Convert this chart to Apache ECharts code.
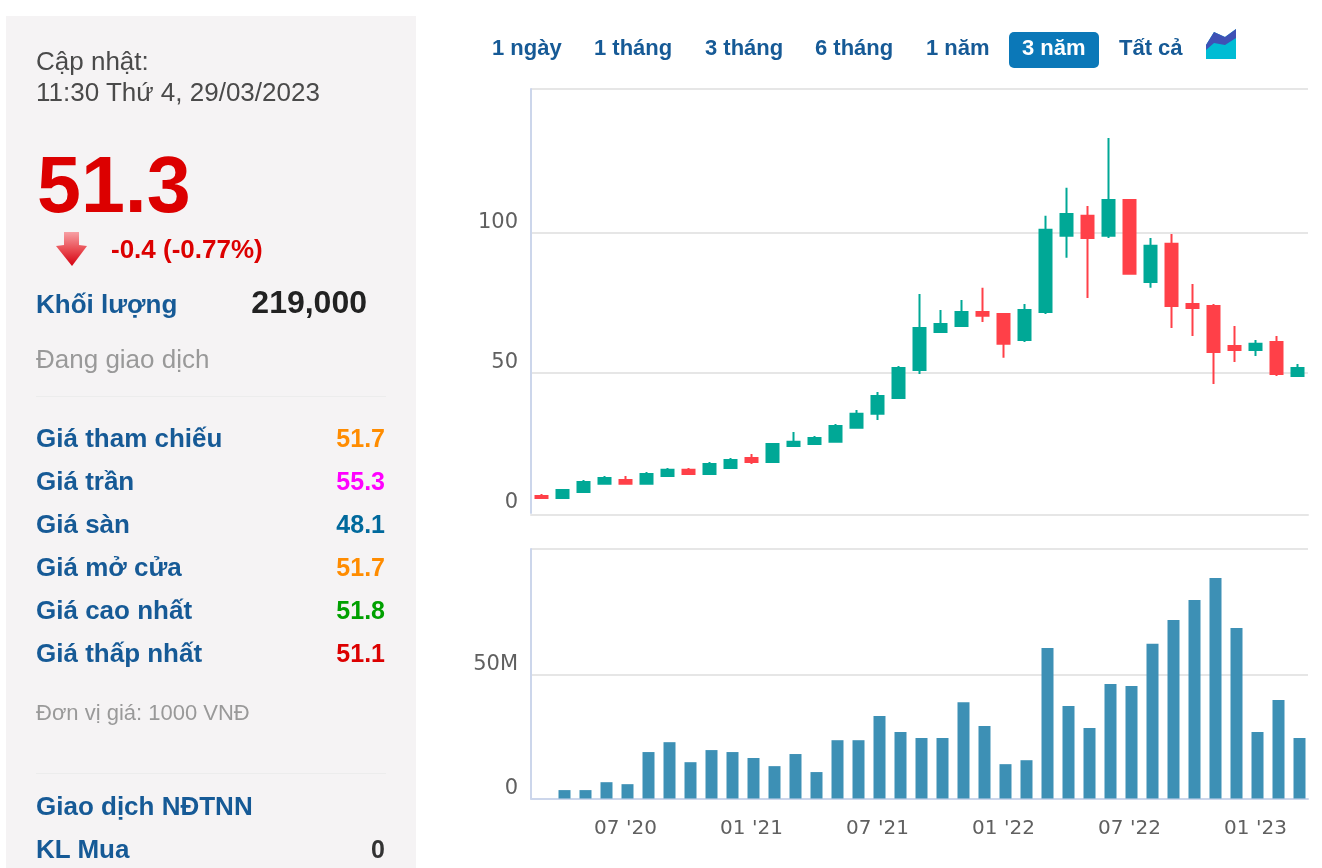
<!DOCTYPE html>
<html lang="vi">
<head>
    <meta charset="utf-8">
    <title>Biểu đồ giá</title>
    <script src="https://cdn.jsdelivr.net/npm/echarts@6/dist/echarts.min.js"></script>
    <style>
        body { margin: 0; background: #fff; font-family: "Liberation Sans", Arial, sans-serif; }
        #panel { position: absolute; left: 6px; top: 16px; width: 410px; height: 852px; background: #f5f3f4; }
        #main { position: absolute; left: 0; top: 0; width: 1322px; height: 868px; }
        .t { position: absolute; white-space: nowrap; line-height: 1; transform: translateY(-50%); }
        .rule { position: absolute; left: 36px; width: 350px; height: 1px; background: #ececec; }
        #active { position: absolute; left: 1009px; top: 32px; width: 90px; height: 36px; background: #0b78b8; border-radius: 5px; }
    </style>
</head>
<body>
<div id="panel"></div>
<div class="rule" style="top:396px"></div>
<div class="rule" style="top:773px"></div>
<div id="active"></div>
<div id="main"></div>
<div id="texts"></div>
<!--mũi tên giảm-->
<svg style="position:absolute;left:54px;top:230px" width="36" height="38">
    <defs>
        <linearGradient id="arrow" x1="0" y1="0" x2="0" y2="1">
            <stop offset="0" stop-color="#f7a0a4"/>
            <stop offset="0.55" stop-color="#e8474e"/>
            <stop offset="1" stop-color="#d40010"/>
        </linearGradient>
    </defs>
    <polygon points="10,2 25,2 25,15 33,16 18,36 2,16 10,15" fill="url(#arrow)"/>
</svg>
<!--icon đổi kiểu biểu đồ-->
<svg style="position:absolute;left:1206px;top:29px" width="30" height="30">
    <polygon points="0,16 8,3 19,8 30,0 30,30 0,30" fill="#00bcd4"/>
    <polygon points="0,16 8,3 19,8 30,0 30,9 19,16 8,14 0,21" fill="#3f51b5"/>
</svg>

<script type="text/javascript">
    var months = ["03 '20", "04 '20", "05 '20", "06 '20", "07 '20", "08 '20", "09 '20", "10 '20", "11 '20", "12 '20",
        "01 '21", "02 '21", "03 '21", "04 '21", "05 '21", "06 '21", "07 '21", "08 '21", "09 '21", "10 '21", "11 '21", "12 '21",
        "01 '22", "02 '22", "03 '22", "04 '22", "05 '22", "06 '22", "07 '22", "08 '22", "09 '22", "10 '22", "11 '22", "12 '22",
        "01 '23", "02 '23", "03 '23"];
    var opens = [6.1, 5.4, 7.5, 10.4, 11.8, 10.4, 13.2, 15.4, 13.9, 16.1, 19.6, 18.2, 23.9, 24.6, 25.4, 30.4, 35.4, 41.1,
        51.1, 64.6, 66.8, 71.8, 71.1, 61.8, 71.8, 99, 106.1, 99, 111.8, 82.5, 96.1, 74.6, 73.9, 59.6, 58.2, 61.1, 48.9];
    var closes = [5.4, 8.2, 11.1, 12.5, 10.4, 13.9, 15.4, 13.9, 17.5, 18.9, 18.2, 24.6, 25.4, 26.8, 31.1, 35.4, 41.8, 51.8,
        66.1, 67.5, 71.8, 70.4, 60.4, 72.5, 101.1, 106.8, 98.2, 111.8, 85.4, 95.4, 73.9, 73.2, 57.5, 58.2, 60.4, 49.6, 51.8];
    var lows = [5.4, 5.4, 7.5, 10.4, 10.4, 10.4, 13.2, 13.9, 13.9, 16.1, 17.5, 18.2, 23.9, 24.6, 25.4, 30.4, 33.2, 41.1,
        49.6, 64.6, 66.8, 68.2, 55.4, 61.1, 71.1, 91.1, 76.8, 98.2, 85.4, 80.4, 66.1, 63.2, 46.1, 53.9, 56.1, 48.9, 48.9];
    var highs = [6.8, 8.2, 11.8, 13.2, 13.2, 14.6, 16.1, 16.1, 18.2, 19.6, 21.1, 24.6, 28.9, 27.5, 31.8, 36.8, 43.2, 52.5,
        78.2, 72.5, 76.1, 80.4, 71.1, 74.6, 106.1, 116.1, 109.6, 133.9, 111.8, 98.2, 99.6, 81.8, 74.6, 66.8, 61.8, 63.2, 53.2];
    // khối lượng theo triệu, tháng đầu không có cột
    var volumes = [null, 3.4, 3.4, 6.6, 5.8, 18.8, 22.8, 14.7, 19.6, 18.8, 16.4, 13.1, 18, 10.7, 23.6, 23.6, 33.4, 26.9, 24.5,
        24.5, 39, 29.3, 13.9, 15.5, 60.9, 37.4, 28.5, 46.4, 45.5, 62.6, 72.3, 80.4, 89.3, 69, 26.9, 39.9, 24.5];

    var priceTicks = [0, 50, 100];
    var volumeTicks = [0, 50];

    var updateLines = ['Cập nhật:', '11:30 Thứ 4, 29/03/2023'];
    var priceNames = ['Giá tham chiếu', 'Giá trần', 'Giá sàn', 'Giá mở cửa', 'Giá cao nhất', 'Giá thấp nhất'];
    var priceValues = ['51.7', '55.3', '48.1', '51.7', '51.8', '51.1'];
    var priceColors = ['#ff8c00', '#ff00ff', '#00699c', '#ff8c00', '#00a000', '#dc0000'];
    var tabs = ['1 ngày', '1 tháng', '3 tháng', '6 tháng', '1 năm', '3 năm', 'Tất cả'];
    var tabLeft = [492, 594, 705, 815, 926, 1022, 1119];

    var BLUE = '#165a96';

    function put(text, x, y, size, color, bold, right) {
        var el = document.createElement('div');
        el.className = 't';
        el.textContent = text;
        el.style.top = y + 'px';
        el.style.fontSize = size + 'px';
        el.style.color = color;
        el.style.fontWeight = bold ? 'bold' : 'normal';
        if (right) {
            el.style.right = (1322 - x) + 'px';
        } else {
            el.style.left = x + 'px';
        }
        document.getElementById('texts').appendChild(el);
    }

    put(updateLines[0], 36, 61, 26, '#4a4a4a');
    put(updateLines[1], 36, 92, 26, '#4a4a4a');
    put('51.3', 37, 184, 79, '#dc0000', true);
    put('-0.4 (-0.77%)', 111, 249, 26, '#dc0000', true);
    put('Khối lượng', 36, 304, 26, BLUE, true);
    put('219,000', 367, 302, 32, '#222', true, true);
    put('Đang giao dịch', 36, 359, 26, '#999');
    priceNames.forEach(function (name, i) {
        put(name, 36, 438 + i * 43, 26, BLUE, true);
        put(priceValues[i], 385, 438 + i * 43, 25, priceColors[i], true, true);
    });
    put('Đơn vị giá: 1000 VNĐ', 36, 713, 22, '#999');
    put('Giao dịch NĐTNN', 36, 806, 26, BLUE, true);
    put('KL Mua', 36, 849, 26, BLUE, true);
    put('0', 385, 849, 25, '#333', true, true);
    tabs.forEach(function (tab, i) {
        put(tab, tabLeft[i], 48, 22, tab === '3 năm' ? '#fff' : BLUE, true);
    });

    var AXIS = '#ccd6eb';
    var GRID = '#e6e6e6';
    var X_LABEL = { fontFamily: 'DejaVu Sans', fontSize: 20, color: '#606060' };
    var Y_LABEL = { fontFamily: 'DejaVu Sans', fontSize: 21, color: '#606060' };

    // nhãn mốc 6 tháng một lần, bắt đầu từ 07 '20
    function isMark(i) {
        return (i - 4) % 6 === 0 && i >= 4;
    }

    var myChart = echarts.init(document.getElementById('main'));
    myChart.setOption({
        animation: false,
        grid: [
            {left: 531, width: 777, top: 89, height: 424},
            {left: 531, width: 777, top: 549, height: 249.5},
            // cột khối lượng lệch nhẹ so với trục
            {left: 533, width: 777, top: 549, height: 249.5}
        ],
        xAxis: [
            {
                type: 'category', gridIndex: 0, data: months, offset: 1.5,
                axisLine: {onZero: false, lineStyle: {color: GRID, width: 2}},
                axisTick: {show: false},
                axisLabel: {show: false}
            },
            {
                type: 'category', gridIndex: 1, data: months,
                axisLine: {onZero: false, lineStyle: {color: AXIS, width: 2}},
                axisTick: {alignWithLabel: true, length: 20, interval: isMark, lineStyle: {color: AXIS, width: 2}},
                axisLabel: Object.assign({interval: isMark, margin: 20, hideOverlap: false}, X_LABEL)
            },
            {type: 'category', gridIndex: 2, data: months, show: false}
        ],
        yAxis: [
            {
                type: 'value', gridIndex: 0, min: 0, max: 151.4,
                axisLine: {show: true, onZero: false, lineStyle: {color: AXIS, width: 2}},
                axisTick: {show: false, customValues: [50, 100, 151.4]},
                splitLine: {lineStyle: {color: GRID, width: 2}},
                axisLabel: Object.assign({customValues: priceTicks, margin: 13, verticalAlign: 'bottom', lineHeight: 20}, Y_LABEL)
            },
            {
                type: 'value', gridIndex: 1, min: 0, max: 101,
                axisLine: {show: true, onZero: false, lineStyle: {color: AXIS, width: 2}},
                axisTick: {show: false, customValues: [50, 101]},
                splitLine: {lineStyle: {color: GRID, width: 2}},
                axisLabel: Object.assign({
                    customValues: volumeTicks, margin: 13, verticalAlign: 'bottom', lineHeight: 20,
                    formatter: function (v) { return v ? v + 'M' : '0'; }
                }, Y_LABEL)
            },
            {type: 'value', gridIndex: 2, min: 0, max: 101, show: false, splitLine: {show: false}}
        ],
        series: [
            {
                type: 'candlestick',
                xAxisIndex: 0,
                yAxisIndex: 0,
                barWidth: 12,
                itemStyle: {color: '#00a896', color0: '#ff4048', borderColor: '#00a896', borderColor0: '#ff4048', borderWidth: 2},
                data: months.map(function (m, i) {
                    return [opens[i], closes[i], lows[i], highs[i]];
                })
            },
            {
                type: 'bar',
                xAxisIndex: 2,
                yAxisIndex: 2,
                barWidth: 12,
                itemStyle: {color: '#3d90b5'},
                data: volumes
            }
        ]
    });
</script>
</body>
</html>
